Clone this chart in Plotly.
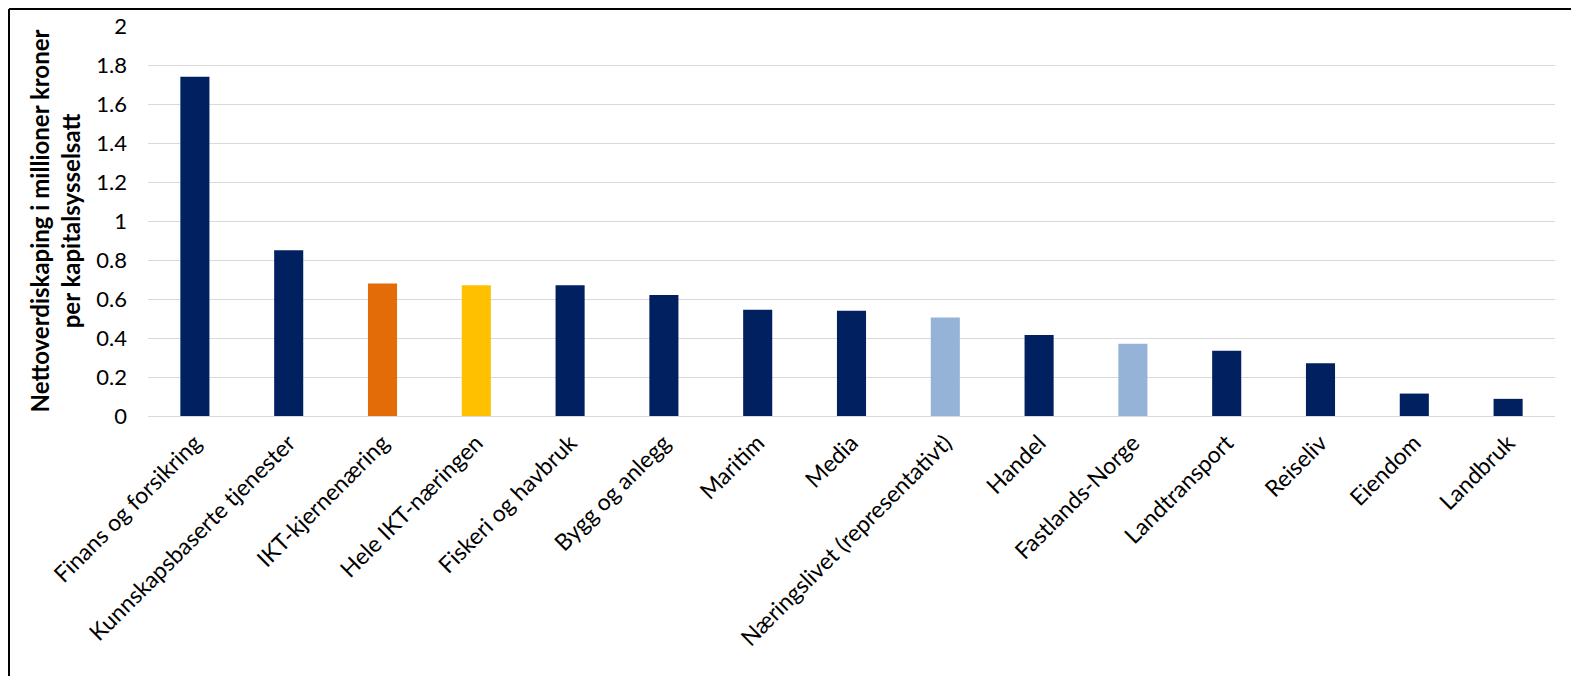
import plotly.graph_objects as go

categories = ["Finans og forsikring", "Kunnskapsbaserte tjenester", "IKT-kjernenæring",
              "Hele IKT-næringen", "Fiskeri og havbruk", "Bygg og anlegg", "Maritim", "Media",
              "Næringslivet (representativt)", "Handel", "Fastlands-Norge", "Landtransport",
              "Reiseliv", "Eiendom", "Landbruk"]
values = [1.74, 0.85, 0.68, 0.67, 0.67, 0.62, 0.545, 0.54, 0.505, 0.415, 0.37, 0.335, 0.27, 0.115, 0.088]
bar_colors = ["#002060", "#002060", "#E36C09", "#FFC000", "#002060", "#002060", "#002060", "#002060",
              "#95B3D7", "#002060", "#95B3D7", "#002060", "#002060", "#002060", "#002060"]
y_ticks = [0, 0.2, 0.4, 0.6, 0.8, 1, 1.2, 1.4, 1.6, 1.8, 2]
y_title = "Nettoverdiskaping i millioner kroner<br>per kapitalsysselsatt"

# page body has an 8px margin, so the figure is sized to fill the rest of the window
W, H = 1571, 668
ML, MR, MT, MB = 140, 24, 18, 260
font = "Lato, 'Open Sans', sans-serif"

fig = go.Figure(go.Bar(x=categories, y=values, marker_color=bar_colors, marker_line_width=0))

fig.update_layout(
    width=W, height=H,
    margin=dict(l=ML, r=MR, t=MT, b=MB, autoexpand=False),
    paper_bgcolor="white", plot_bgcolor="white",
    bargap=0.69, showlegend=False,
    font=dict(family=font, color="black"),
)
fig.update_xaxes(tickangle=-45, tickfont=dict(size=23, family=font), showline=False,
                 ticks="", showgrid=False, ticklabelstandoff=8)
fig.update_yaxes(range=[0, 2], tickvals=y_ticks, ticktext=[f"{v:g}" for v in y_ticks],
                 tickfont=dict(size=22, family=font), showgrid=True, gridcolor="#D9D9D9",
                 gridwidth=1, zeroline=True, zerolinecolor="#D9D9D9", zerolinewidth=1,
                 ticklabelstandoff=20,
                 title=dict(text=y_title, font=dict(size=24, family=font, weight="bold"), standoff=8))

# black frame on left and top edge of the figure
pw = W - ML - MR
ph = H - MT - MB
x_left = (-ML + 1) / pw
x_right = (W - ML) / pw
y_top = (H - MB - 1) / ph
y_bot = -MB / ph
fig.add_shape(type="line", xref="paper", yref="paper", x0=x_left, x1=x_left, y0=y_bot, y1=y_top,
              line=dict(color="black", width=2))
fig.add_shape(type="line", xref="paper", yref="paper", x0=x_left, x1=x_right, y0=y_top, y1=y_top,
              line=dict(color="black", width=2))

fig.write_html("out.html")
